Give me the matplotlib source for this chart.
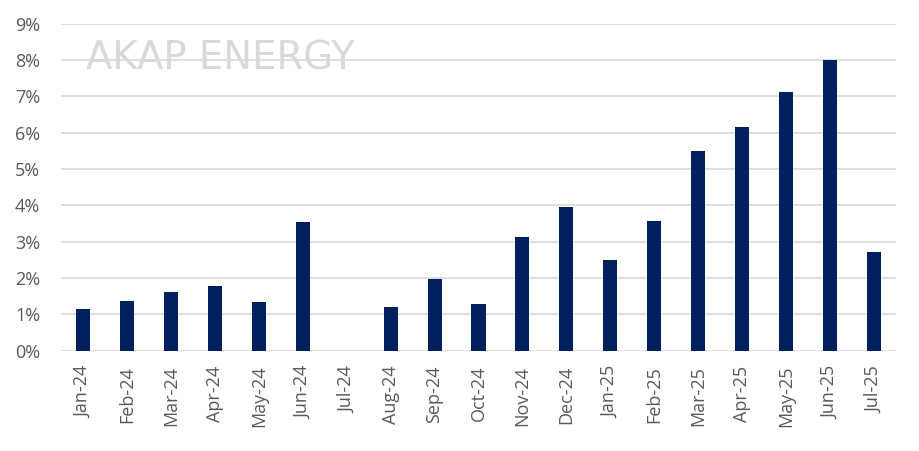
import numpy as np
import matplotlib.pyplot as plt
from matplotlib.ticker import PercentFormatter

months = ['Jan-24', 'Feb-24', 'Mar-24', 'Apr-24', 'May-24', 'Jun-24', 'Jul-24',
          'Aug-24', 'Sep-24', 'Oct-24', 'Nov-24', 'Dec-24', 'Jan-25', 'Feb-25',
          'Mar-25', 'Apr-25', 'May-25', 'Jun-25', 'Jul-25']
values = [1.14, 1.36, 1.61, 1.77, 1.33, 3.54, 0.0, 1.19, 1.96, 1.28, 3.12,
          3.95, 2.49, 3.56, 5.49, 6.15, 7.12, 8.0, 2.71]

plt.rcParams['font.family'] = ['Open Sans', 'DejaVu Sans']

fig = plt.figure(figsize=(9.19, 4.51), dpi=100)
ax = fig.add_axes([61/919, 1 - 350.5/451, (896-61)/919, (350.5-23.7)/451])

x = np.arange(len(months))
ax.bar(x, values, width=0.32, color='#002060', zorder=3)

ax.set_xlim(-0.5, len(months) - 0.5)
ax.set_ylim(0, 9)
ax.set_yticks(np.arange(0, 10, 1))
ax.yaxis.set_major_formatter(PercentFormatter(decimals=0))
ax.set_xticks(x)
ax.set_xticklabels(months, rotation=90)
ax.tick_params(length=0, labelsize=13, colors='#595959')
ax.tick_params(axis='x', pad=11)
ax.tick_params(axis='y', pad=15)

ax.grid(axis='y', color='#d9d9d9', linewidth=1.2, zorder=0)
for s in ax.spines.values():
    s.set_visible(False)

# watermark
fig.text(86/919, 1 - 69/451, 'AKAP ENERGY', fontsize=27.8, color='#d9d9d9',
         family='DejaVu Sans', ha='left', va='baseline')

fig.savefig('out.png', dpi=100)
